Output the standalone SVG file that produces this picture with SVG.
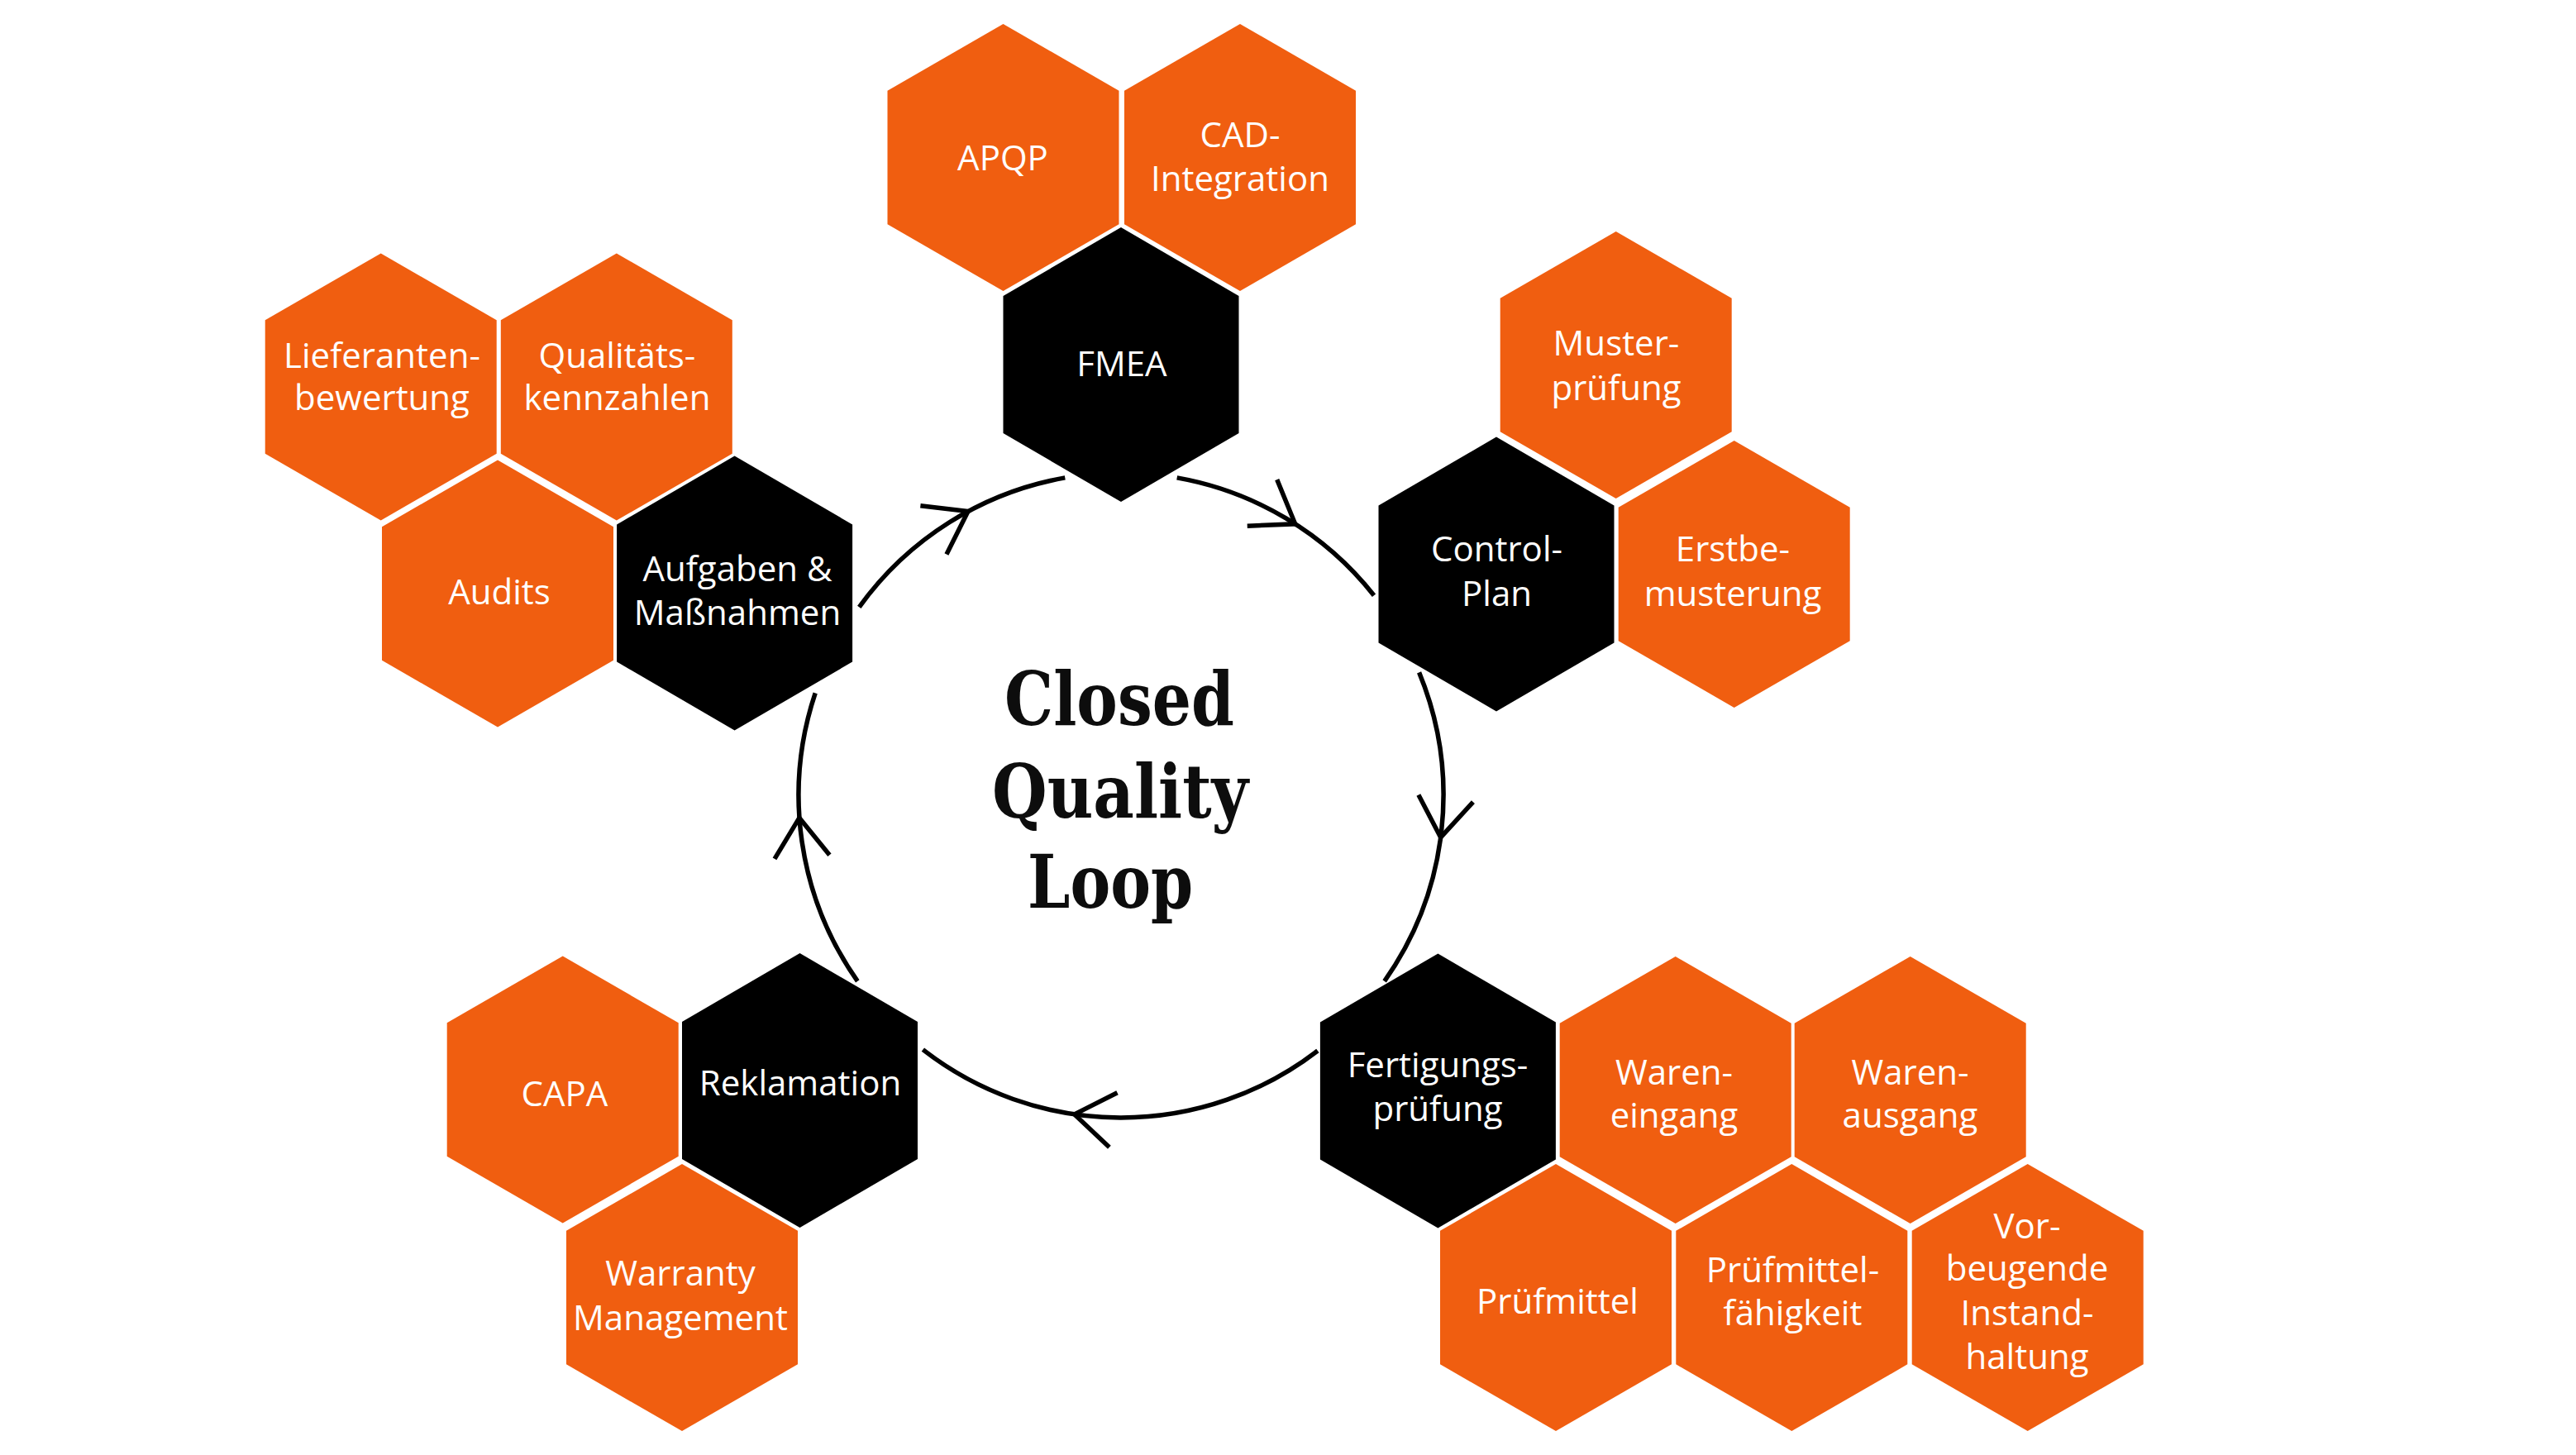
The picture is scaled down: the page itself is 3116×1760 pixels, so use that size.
<svg xmlns="http://www.w3.org/2000/svg" xmlns:xlink="http://www.w3.org/1999/xlink" width="3116" height="1760" viewBox="0 0 3116 1760">
<style>
.o{fill:#F05E10}
.b{fill:#000}
.lbl{font-family:"Open Sans","Noto Sans",sans-serif;font-size:42px;fill:#fff;text-anchor:middle}
.title{font-family:"DejaVu Serif","Liberation Serif",serif;font-weight:bold;font-size:90px;fill:#0d0d0d;text-anchor:middle}
.arc{fill:none;stroke:#000;stroke-width:5.5}
.chev{fill:none;stroke:#000;stroke-width:5.5;stroke-linejoin:miter}
</style>
<defs>
<polygon id="hexO" points="0,-161.5 140,-80.75 140,80.75 0,161.5 -140,80.75 -140,-80.75"/>
<polygon id="hexB" points="0,-166 142.5,-83 142.5,83 0,166 -142.5,83 -142.5,-83"/>
<path id="chev" d="M -47.5 -33.3 L 0 0 L -47.5 33.3"/>
</defs>
<rect width="3116" height="1760" fill="#fff"/>

<g id="connectors">
<path class="arc" d="M 1039.3 734.4 A 390 390 0 0 1 1288.3 577.9"/>
<path class="arc" d="M 1423.7 577.9 A 390 390 0 0 1 1662 720.3"/>
<path class="arc" d="M 1716.6 813.4 A 390 390 0 0 1 1674.7 1186.8"/>
<path class="arc" d="M 1593.9 1271 A 390 390 0 0 1 1116.4 1269.7"/>
<path class="arc" d="M 1037.3 1186.8 A 390 390 0 0 1 986.2 838.3"/>
<use xlink:href="#chev" class="chev" transform="translate(1171,618.6) rotate(-28.3)"/>
<use xlink:href="#chev" class="chev" transform="translate(1566.7,633.8) rotate(32.7)"/>
<use xlink:href="#chev" class="chev" transform="translate(1742.7,1012.9) rotate(97.5)"/>
<use xlink:href="#chev" class="chev" transform="translate(1299.7,1347.9) rotate(188.3)"/>
<use xlink:href="#chev" class="chev" transform="translate(966.9,989.2) rotate(266)"/>
</g>

<g id="title">
<text class="title" x="1354" y="877" textLength="278" lengthAdjust="spacingAndGlyphs">Closed</text>
<text class="title" x="1355" y="989" textLength="310" lengthAdjust="spacingAndGlyphs">Quality</text>
<text class="title" x="1343" y="1098" textLength="200" lengthAdjust="spacingAndGlyphs">Loop</text>
</g>

<g id="apqp"><use xlink:href="#hexO" class="o" x="1213.5" y="190.5"/><text class="lbl" x="1213" y="206">APQP</text></g>
<g id="cad"><use xlink:href="#hexO" class="o" x="1500" y="190.5"/><text class="lbl" x="1500" y="177.5">CAD-</text><text class="lbl" x="1500" y="230.5">Integration</text></g>
<g id="fmea"><use xlink:href="#hexB" class="b" x="1356" y="441"/><text class="lbl" x="1357" y="455">FMEA</text></g>

<g id="lieferantenbewertung"><use xlink:href="#hexO" class="o" x="460.7" y="468"/><text class="lbl" x="462" y="445">Lieferanten-</text><text class="lbl" x="462" y="496">bewertung</text></g>
<g id="qualitaetskennzahlen"><use xlink:href="#hexO" class="o" x="745.8" y="468"/><text class="lbl" x="746.5" y="445">Qualitäts-</text><text class="lbl" x="746.5" y="496">kennzahlen</text></g>
<g id="audits"><use xlink:href="#hexO" class="o" x="602" y="718"/><text class="lbl" x="604" y="731">Audits</text></g>
<g id="aufgaben"><use xlink:href="#hexB" class="b" x="888.6" y="717.5"/><text class="lbl" x="892" y="703">Aufgaben &amp;</text><text class="lbl" x="892" y="756">Maßnahmen</text></g>

<g id="musterpruefung"><use xlink:href="#hexO" class="o" x="1954.7" y="441.4"/><text class="lbl" x="1955" y="430">Muster-</text><text class="lbl" x="1955" y="483.5">prüfung</text></g>
<g id="controlplan"><use xlink:href="#hexB" class="b" x="1810" y="694.5"/><text class="lbl" x="1810.5" y="679">Control-</text><text class="lbl" x="1810.5" y="732.5">Plan</text></g>
<g id="erstbemusterung"><use xlink:href="#hexO" class="o" x="2097.7" y="694.5"/><text class="lbl" x="2096" y="679">Erstbe-</text><text class="lbl" x="2096" y="732.5">musterung</text></g>

<g id="capa"><use xlink:href="#hexO" class="o" x="680.7" y="1318"/><text class="lbl" x="683" y="1337.5">CAPA</text></g>
<g id="reklamation"><use xlink:href="#hexB" class="b" x="967.5" y="1319"/><text class="lbl" x="968" y="1325">Reklamation</text></g>
<g id="warranty"><use xlink:href="#hexO" class="o" x="825" y="1569.6"/><text class="lbl" x="823" y="1555">Warranty</text><text class="lbl" x="823" y="1608.5">Management</text></g>

<g id="fertigungspruefung"><use xlink:href="#hexB" class="b" x="1739.4" y="1319.5"/><text class="lbl" x="1739" y="1303">Fertigungs-</text><text class="lbl" x="1739" y="1355.5">prüfung</text></g>
<g id="wareneingang"><use xlink:href="#hexO" class="o" x="2026.7" y="1318.5"/><text class="lbl" x="2025" y="1312">Waren-</text><text class="lbl" x="2025" y="1363.5">eingang</text></g>
<g id="warenausgang"><use xlink:href="#hexO" class="o" x="2310.7" y="1318.5"/><text class="lbl" x="2310.5" y="1312">Waren-</text><text class="lbl" x="2310.5" y="1363.5">ausgang</text></g>
<g id="pruefmittel"><use xlink:href="#hexO" class="o" x="1882" y="1569.6"/><text class="lbl" x="1884" y="1589">Prüfmittel</text></g>
<g id="pruefmittelfaehigkeit"><use xlink:href="#hexO" class="o" x="2167.3" y="1569.6"/><text class="lbl" x="2168.5" y="1551">Prüfmittel-</text><text class="lbl" x="2168.5" y="1602.5">fähigkeit</text></g>
<g id="instandhaltung"><use xlink:href="#hexO" class="o" x="2452.7" y="1569.6"/><text class="lbl" x="2452" y="1498">Vor-</text><text class="lbl" x="2452" y="1549">beugende</text><text class="lbl" x="2452" y="1602.5">Instand-</text><text class="lbl" x="2452" y="1656">haltung</text></g>
</svg>
